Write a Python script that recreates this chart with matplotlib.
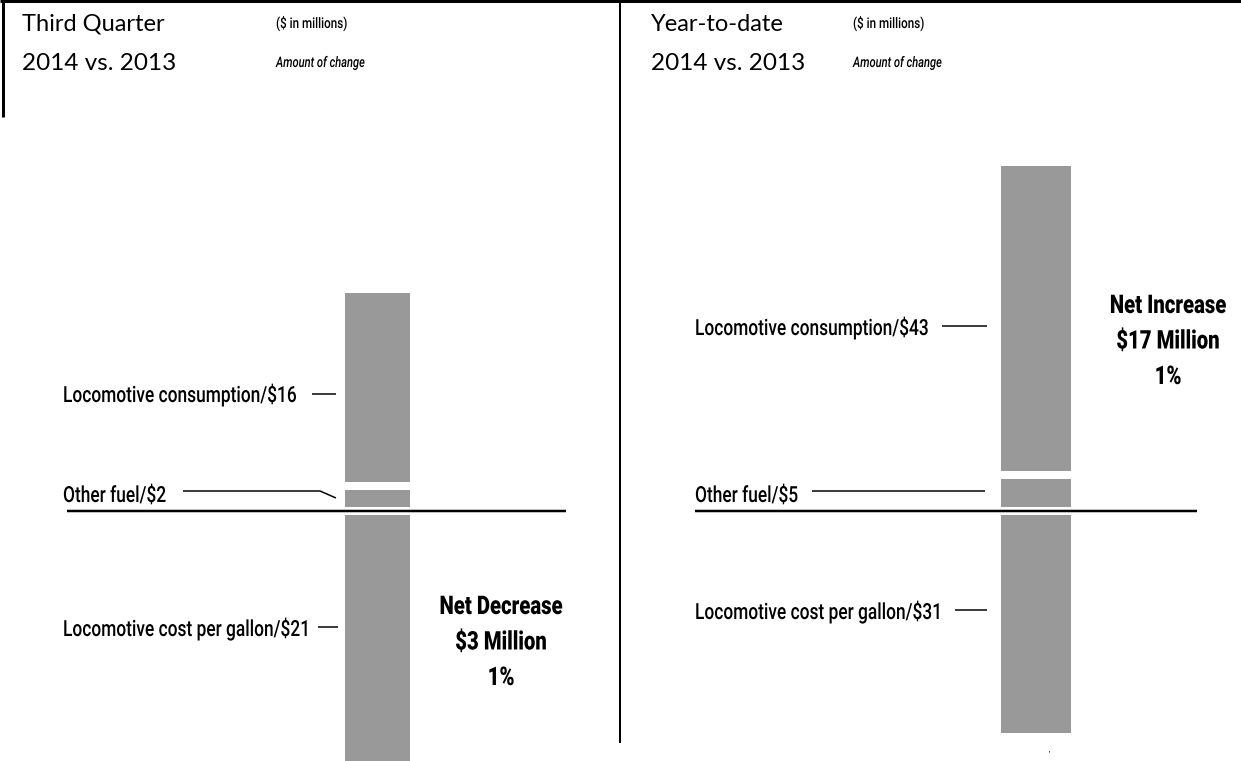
import matplotlib
matplotlib.use("Agg")
import matplotlib.pyplot as plt
from matplotlib import font_manager
from matplotlib.patheffects import AbstractPathEffect
from matplotlib.transforms import Affine2D

# Fuel expense, amount of change 2014 vs. 2013 ($ in millions)
panel_titles = ["Third Quarter", "Year-to-date"]
panel_periods = ["2014 vs. 2013", "2014 vs. 2013"]
other_fuel = [2, 5]
loco_consumption = [16, 43]
loco_cost_per_gallon = [-21, -31]
net_labels = ["Net Decrease", "Net Increase"]
net_change = [-3, 17]
net_pct = [1, 1]

W, H = 1241, 761
BASE_Y = 511                 # pixel row of the zero line
PX_PER_UNIT = [12.33, 7.28]  # vertical scale of each panel
BAR_X = [377.5, 1035.5]
BAR_W = [73, 78]
GAP_PX = 8
GREY = "#999999"

names = {f.name for f in font_manager.fontManager.ttflist}


def pick(*cands):
    for c in cands:
        if c in names:
            return c
    return "DejaVu Sans"


BASE = pick("Roboto", "Noto Sans", "DejaVu Sans")
TITLE = pick("Lato", "Open Sans", "Noto Sans")


class Squeeze(AbstractPathEffect):
    """Narrow the glyph outlines horizontally, like a condensed face."""

    def __init__(self, sx, anchor="left"):
        super().__init__()
        self.sx = sx
        self.anchor = anchor

    def draw_path(self, renderer, gc, tpath, affine, rgbFace=None):
        if self.anchor == "center":
            ext = tpath.get_extents()
            cx = (ext.x0 + ext.x1) / 2
        else:
            cx = 0.0
        t = Affine2D().translate(-cx, 0).scale(self.sx, 1).translate(cx, 0)
        renderer.draw_path(gc, tpath, t + affine, rgbFace)


def narrow_text(ax, x, y, s, size, sx=0.8, ha="left", **kw):
    anchor = "center" if ha == "center" else "left"
    return ax.text(x, y, s, family=BASE, fontsize=size, ha=ha,
                   va="baseline", color="black",
                   path_effects=[Squeeze(sx, anchor)], **kw)


fig = plt.figure(figsize=(W / 100, H / 100), dpi=100)
fig.patch.set_facecolor("white")

# bar axes, one per panel, each with its own value scale
for i in range(2):
    s = PX_PER_UNIT[i]
    ax = fig.add_axes([0, 0, 1, 1])
    ax.set_xlim(0, W)
    ax.set_ylim(-(H - BASE_Y) / s, BASE_Y / s)
    ax.axis("off")
    ax.patch.set_alpha(0)
    ax.bar([BAR_X[i]] * 3,
           [other_fuel[i], loco_consumption[i], loco_cost_per_gallon[i]],
           bottom=[0, other_fuel[i], 0],
           width=BAR_W[i], color=GREY, edgecolor="white",
           linewidth=GAP_PX * 72 / 100)

# frame, labels and rules drawn in pixel space on top
fr = fig.add_axes([0, 0, 1, 1])
fr.set_xlim(0, W)
fr.set_ylim(H, 0)
fr.axis("off")
fr.patch.set_alpha(0)

lw = 72 / 100  # one pixel in points
fr.plot([0, W], [1, 1], color="black", lw=3 * lw, solid_capstyle="butt")
fr.plot([3, 3], [0, 117], color="black", lw=3 * lw, solid_capstyle="butt")
fr.plot([620, 620], [0, 743], color="black", lw=2 * lw, solid_capstyle="butt")

title_x = [22, 651]
sub_x = [276, 853]
for i in range(2):
    fr.text(title_x[i], 31, panel_titles[i], family=TITLE, fontsize=17,
            va="baseline", ha="left", color="black")
    fr.text(title_x[i], 70, panel_periods[i], family=TITLE, fontsize=17.5,
            va="baseline", ha="left", color="black")
    narrow_text(fr, sub_x[i], 28, "($ in millions)", 10.5, sx=0.8,
                weight="medium")
    narrow_text(fr, sub_x[i], 67, "Amount of change", 10.5, sx=0.76,
                style="italic", weight="medium")

# zero lines
fr.plot([67, 566], [510.5, 510.5], color="black", lw=2.5 * lw,
        solid_capstyle="butt")
fr.plot([695, 1197], [510.5, 510.5], color="black", lw=2.5 * lw,
        solid_capstyle="butt")

label_x = [63, 695]
lab_fs = 16
lab_sx = 0.78
lab_kw = dict(weight="medium")
leader_kw = dict(color="black", lw=1.5 * lw, solid_capstyle="butt")

# third quarter labels
narrow_text(fr, label_x[0], 402,
            f"Locomotive consumption/${loco_consumption[0]}", lab_fs, lab_sx,
            **lab_kw)
fr.plot([312, 336], [394, 394], **leader_kw)
narrow_text(fr, label_x[0], 502, f"Other fuel/${other_fuel[0]}",
            lab_fs, lab_sx, **lab_kw)
fr.plot([183, 320, 336], [491, 491, 498], **leader_kw)
narrow_text(fr, label_x[0], 636,
            f"Locomotive cost per gallon/${-loco_cost_per_gallon[0]}",
            lab_fs, lab_sx, **lab_kw)
fr.plot([318, 338], [627, 627], **leader_kw)

# year-to-date labels
narrow_text(fr, label_x[1], 335,
            f"Locomotive consumption/${loco_consumption[1]}", lab_fs, lab_sx,
            **lab_kw)
fr.plot([942, 987], [326, 326], **leader_kw)
narrow_text(fr, label_x[1], 502, f"Other fuel/${other_fuel[1]}",
            lab_fs, lab_sx, **lab_kw)
fr.plot([812, 985], [491, 491], **leader_kw)
narrow_text(fr, label_x[1], 619,
            f"Locomotive cost per gallon/${-loco_cost_per_gallon[1]}",
            lab_fs, lab_sx, **lab_kw)
fr.plot([955, 987], [610, 610], **leader_kw)

# net change callouts
net_cx = [501, 1168]
net_top = [614, 313]
for i in range(2):
    lines = [net_labels[i], f"${abs(net_change[i])} Million", f"{net_pct[i]}%"]
    for k, t in enumerate(lines):
        narrow_text(fr, net_cx[i], net_top[i] + 35.5 * k, t, 18.5, sx=0.79,
                    ha="center", weight="black")

fr.text(1049, 755, "'", family=BASE, fontsize=6, ha="center", va="baseline")

fig.savefig("out.png", dpi=100, facecolor="white")
